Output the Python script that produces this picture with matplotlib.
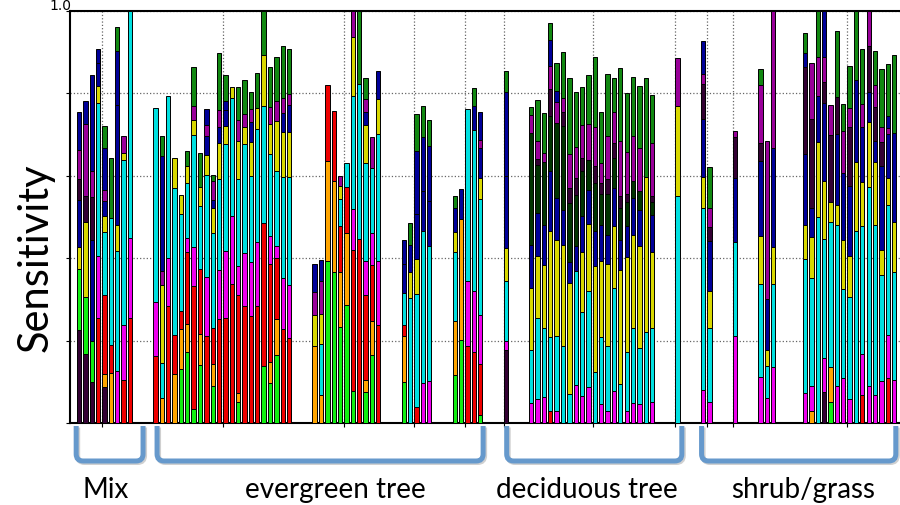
import matplotlib.pyplot as plt
from matplotlib.path import Path
from matplotlib.patches import PathPatch

# stacked segment colours
layer_colors = {
    'dp': '#330033', 'li': '#11ee11', 'or': '#ffa500', 're': '#ee0000',
    'ma': '#ee00ee', 'cy': '#00e0e0', 'ye': '#d8d800', 'bl': '#000099',
    'dg': '#003300', 'pu': '#990099', 'gr': '#118811',
}

# each bar: list of (layer, cumulative top)
mix_x = [0, 1, 2, 3, 4, 5, 6, 7, 8]
mix_bars = [
    [('dp', .226), ('li', .375), ('ye', .428), ('bl', .541), ('dp', .592), ('pu', .663), ('bl', .754)],
    [('dp', .167), ('li', .305), ('ye', .487), ('dp', .550), ('pu', .725), ('bl', .781)],
    [('dp', .099), ('li', .199), ('bl', .444), ('dp', .548), ('pu', .612), ('bl', .845)],
    [('re', .254), ('ma', .406), ('cy', .777), ('ye', .819), ('bl', .875), ('bl', .908)],
    [('dp', .087), ('or', .118), ('re', .311), ('cy', .463), ('ye', .503), ('bl', .540), ('pu', .566), ('bl', .668), ('gr', .720)],
    [('or', .121), ('re', .190), ('cy', .498), ('gr', .642)],
    [('ma', .127), ('cy', .417), ('ye', .481), ('bl', .773), ('bl', .902), ('gr', .960)],
    [('re', .105), ('ma', .238), ('cy', .639), ('ye', .655), ('pu', .697)],
    [('re', .256), ('ma', .448), ('cy', 1.0)],
]

evergreen_x = list(range(12, 34)) + list(range(37, 48)) + list(range(51, 56)) + list(range(59, 64))
evergreen_bars = [
    [('re', .162), ('ma', .293), ('cy', .764)],
    [('or', .061), ('cy', .145), ('ye', .335), ('pu', .370), ('bl', .647), ('gr', .697)],
    [('re', .283), ('ma', .400), ('cy', .793)],
    [('or', .119), ('re', .214), ('cy', .570), ('ye', .644)],
    [('li', .131), ('or', .228), ('re', .273), ('cy', .507), ('ye', .554)],
    [('li', .173), ('or', .240), ('re', .416), ('ma', .448), ('cy', .583), ('ye', .623), ('gr', .661)],
    [('li', .034), ('re', .332), ('ma', .428), ('cy', .700), ('ye', .736), ('pu', .769), ('gr', .865)],
    [('li', .141), ('or', .216), ('re', .374), ('cy', .526), ('ye', .574), ('gr', .655)],
    [('re', .210), ('ma', .354), ('cy', .602), ('ye', .650), ('bl', .696), ('pu', .724), ('bl', .761)],
    [('li', .091), ('or', .142), ('re', .230), ('cy', .460), ('ye', .521), ('bl', .542), ('pu', .587), ('gr', .602)],
    [('re', .252), ('ma', .372), ('cy', .592), ('ye', .680), ('bl', .718), ('pu', .759), ('gr', .898)],
    [('re', .254), ('ma', .418), ('cy', .677), ('ye', .722), ('bl', .759), ('bl', .782), ('gr', .845)],
    [('re', .337), ('ma', .502), ('cy', .789), ('ye', .815)],
    [('li', .050), ('or', .073), ('re', .311), ('ma', .382), ('cy', .592), ('ye', .685), ('pu', .735), ('gr', .815)],
    [('re', .283), ('ma', .412), ('cy', .676), ('ye', .719), ('pu', .749), ('gr', .833)],
    [('re', .259), ('ma', .390), ('cy', .600), ('ye', .681), ('bl', .731), ('pu', .762), ('gr', .804)],
    [('re', .283), ('ma', .439), ('cy', .714), ('ye', .764), ('gr', .850)],
    [('li', .138), ('re', .485), ('cy', .769), ('ye', .893), ('gr', 1.0)],
    [('li', .097), ('or', .147), ('re', .386), ('ma', .455), ('cy', .653), ('ye', .726), ('pu', .766), ('gr', .863)],
    [('li', .165), ('or', .252), ('re', .400), ('ma', .429), ('cy', .611), ('ye', .732), ('pu', .782), ('gr', .888)],
    [('re', .228), ('ma', .351), ('cy', .596), ('ye', .706), ('bl', .752), ('pu', .788), ('gr', .914)],
    [('re', .206), ('ma', .335), ('cy', .596), ('ye', .706), ('bl', .773), ('pu', .799), ('gr', .908)],
    [('or', .188), ('ye', .261), ('pu', .319), ('bl', .386)],
    [('or', .069), ('cy', .192), ('ye', .265), ('pu', .345), ('bl', .396)],
    [('li', .394), ('or', .637), ('re', .820)],
    [('li', .367), ('or', .588), ('re', .758)],
    [('li', .234), ('or', .366), ('re', .479), ('cy', .544), ('ye', .576), ('pu', .599)],
    [('li', .286), ('or', .460), ('re', .574), ('cy', .630)],
    [('li', .078), ('re', .421), ('ma', .519), ('cy', .794), ('ye', .936), ('pu', 1.0)],
    [('re', .447), ('cy', .823), ('gr', 1.0)],
    [('li', .076), ('or', .105), ('re', .311), ('ma', .392), ('cy', .630), ('ye', .724), ('bl', .754), ('pu', .786), ('gr', .837)],
    [('li', .166), ('or', .248), ('re', .383), ('ma', .460), ('cy', .618), ('pu', .695)],
    [('re', .238), ('ma', .394), ('cy', .701), ('ye', .786), ('bl', .855)],
    [('li', .099), ('or', .210), ('re', .238), ('cy', .316), ('bl', .386), ('bl', .444)],
    [('cy', .303), ('ye', .367), ('bl', .433), ('gr', .485)],
    [('re', .040), ('cy', .313), ('ye', .398), ('bl', .507), ('bl', .661), ('gr', .750)],
    [('ma', .097), ('cy', .467), ('bl', .564), ('bl', .693), ('gr', .769)],
    [('ma', .101), ('cy', .430), ('bl', .540), ('bl', .672), ('gr', .736)],
    [('li', .117), ('or', .248), ('cy', .414), ('ye', .463), ('bl', .521), ('gr', .552)],
    [('li', .201), ('or', .495), ('bl', .568)],
    [('re', .186), ('ma', .345), ('cy', .761)],
    [('re', .173), ('ma', .320), ('cy', .712), ('bl', .769), ('gr', .812)],
    [('li', .019), ('re', .142), ('ma', .262), ('cy', .544), ('ye', .595), ('bl', .667), ('pu', .688), ('bl', .754)],
]

deciduous_x = [67] + list(range(71, 91)) + [94]
deciduous_bars = [
    [('dp', .178), ('ma', .198), ('cy', .344), ('ye', .424), ('bl', .600), ('bl', .804), ('gr', .855)],
    [('ma', .048), ('cy', .177), ('ye', .327), ('bl', .432), ('dg', .704), ('pu', .748), ('gr', .766)],
    [('ma', .058), ('cy', .255), ('ye', .405), ('bl', .509), ('dg', .627), ('dp', .641), ('pu', .685), ('gr', .784)],
    [('ma', .064), ('cy', .230), ('ye', .384), ('bl', .481), ('dg', .634), ('pu', .655), ('gr', .752)],
    [('re', .030), ('cy', .208), ('ye', .467), ('bl', .612), ('dg', .746), ('dp', .811), ('pu', .867), ('bl', .930), ('gr', .972)],
    [('ma', .028), ('cy', .210), ('ye', .445), ('bl', .545), ('dg', .728), ('pu', .778), ('bl', .805), ('gr', .874)],
    [('cy', .186), ('ye', .433), ('bl', .518), ('dg', .722), ('dp', .754), ('pu', .788), ('gr', .901)],
    [('cy', .070), ('ye', .339), ('bl', .390), ('dg', .534), ('dp', .570), ('pu', .653), ('gr', .837)],
    [('ma', .092), ('cy', .368), ('bl', .430), ('dg', .553), ('dp', .595), ('pu', .669), ('gr', .803)],
    [('ma', .066), ('cy', .269), ('ye', .414), ('bl', .502), ('dg', .612), ('dp', .643), ('pu', .723), ('gr', .815)],
    [('ma', .088), ('cy', .320), ('ye', .482), ('bl', .566), ('dg', .639), ('pu', .726), ('gr', .845)],
    [('cy', .125), ('ye', .382), ('bl', .467), ('dg', .582), ('dp', .625), ('pu', .719), ('gr', .888)],
    [('ma', .045), ('cy', .208), ('ye', .394), ('bl', .481), ('dg', .557), ('dp', .582), ('pu', .630), ('gr', .756)],
    [('ma', .028), ('cy', .188), ('ye', .386), ('bl', .456), ('dg', .557), ('dp', .592), ('pu', .696), ('gr', .847)],
    [('ma', .077), ('cy', .327), ('ye', .479), ('bl', .570), ('dg', .643), ('dp', .680), ('pu', .756), ('gr', .837)],
    [('cy', .095), ('ye', .371), ('bl', .445), ('dg', .521), ('dp', .550), ('pu', .685), ('gr', .861)],
    [('ma', .028), ('cy', .172), ('ye', .402), ('bl', .477), ('dg', .536), ('dp', .556), ('pu', .657), ('gr', .800)],
    [('ma', .049), ('cy', .230), ('ye', .457), ('bl', .545), ('dg', .588), ('pu', .696), ('gr', .841)],
    [('ma', .046), ('cy', .182), ('ye', .430), ('bl', .517), ('dg', .562), ('pu', .667), ('gr', .817)],
    [('cy', .222), ('ye', .598), ('gr', .837)],
    [('ma', .052), ('cy', .230), ('ye', .414), ('bl', .506), ('dg', .536), ('dp', .550), ('pu', .680), ('gr', .796)],
    [('cy', .552), ('ye', .769), ('pu', .885)],
]

shrub_x = [98, 99, 103, 107, 108, 109] + list(range(114, 129))
shrub_bars = [
    [('ma', .080), ('cy', .523), ('ye', .598), ('bl', .739), ('dp', .823), ('pu', .847), ('bl', .926)],
    [('ma', .050), ('cy', .230), ('ye', .321), ('bl', .441), ('dp', .475), ('pu', .521), ('gr', .621)],
    [('ma', .210), ('cy', .439), ('bl', .594), ('dp', .693), ('pu', .709)],
    [('ma', .112), ('cy', .337), ('ye', .455), ('bl', .637), ('dp', .680), ('pu', .821), ('gr', .859)],
    [('ma', .060), ('cy', .138), ('ye', .178), ('bl', .301), ('pu', .684)],
    [('ma', .135), ('cy', .337), ('ye', .428), ('bl', .667), ('pu', 1.0)],
    [('ma', .074), ('cy', .398), ('ye', .481), ('bl', .653), ('dp', .863), ('bl', .898), ('gr', .947)],
    [('or', .028), ('ma', .091), ('cy', .351), ('ye', .451), ('bl', .523), ('dp', .738), ('pu', .875)],
    [('cy', .499), ('ye', .681), ('bl', .794), ('pu', .888), ('gr', 1.0)],
    [('dp', .076), ('ma', .158), ('cy', .447), ('ye', .588), ('bl', .777), ('dp', .827), ('pu', .888), ('bl', 1.0)],
    [('li', .052), ('or', .135), ('cy', .489), ('ye', .536), ('dp', .699), ('pu', .772)],
    [('ma', .091), ('cy', .481), ('ye', .529), ('bl', .701), ('dp', .792), ('gr', .951)],
    [('ma', .109), ('cy', .325), ('ye', .445), ('bl', .608), ('pu', .708), ('gr', .774)],
    [('ma', .058), ('cy', .307), ('ye', .405), ('bl', .575), ('dp', .718), ('pu', .765), ('gr', .866)],
    [('cy', .467), ('ye', .634), ('bl', .833), ('gr', 1.0)],
    [('re', .068), ('ma', .167), ('cy', .477), ('ye', .586), ('bl', .718), ('pu', .774), ('gr', .908)],
    [('ma', .089), ('cy', .572), ('ye', .731), ('bl', .803), ('dp', .914), ('pu', 1.0)],
    [('ma', .069), ('cy', .481), ('ye', .634), ('bl', .685), ('dp', .766), ('pu', .820), ('gr', .904)],
    [('ma', .101), ('cy', .359), ('ye', .420), ('bl', .625), ('dp', .683), ('pu', .718), ('gr', .859)],
    [('re', .109), ('ma', .214), ('cy', .529), ('ye', .595), ('bl', .701), ('pu', .715), ('bl', .746), ('gr', .871)],
    [('ma', .105), ('cy', .367), ('ye', .489), ('bl', .703), ('gr', .892)],
]

group_names = ['Mix', 'evergreen tree', 'deciduous tree', 'shrub/grass']
group_spans = [(-0.1, 10.4), (12.6, 63.8), (67.5, 95.0), (98.1, 128.6)]
label_px = [106, 335, 587, 803]
grid_x = [4, 23, 42, 53, 61, 67, 81, 94, 99, 103, 121]

fig = plt.figure(figsize=(9, 5.06), dpi=100)
ax = fig.add_axes([70 / 900, 82 / 506, 850 / 900, 412 / 506])

for xs, bars in [(mix_x, mix_bars), (evergreen_x, evergreen_bars),
                 (deciduous_x, deciduous_bars), (shrub_x, shrub_bars)]:
    for x, segs in zip(xs, bars):
        bottom = 0
        for layer, top in segs:
            # soft grey shadow to the right of each bar
            ax.bar(x + 0.12, top - bottom, bottom=bottom, width=0.68, align='edge',
                   color='#bbbbbb', edgecolor='none', zorder=2)
            ax.bar(x, top - bottom, bottom=bottom, width=0.68, align='edge',
                   color=layer_colors[layer], edgecolor='black', linewidth=0.7, zorder=3)
            bottom = top

ax.set_xlim(-1.07, 132.4)
ax.set_ylim(0, 1)
ax.set_yticks([0, 0.2, 0.4, 0.6, 0.8, 1.0])
ax.set_yticklabels([])
ax.set_xticks(grid_x)
ax.set_xticklabels([])
ax.tick_params(length=3, width=0.8)
ax.grid(True, linestyle=':', color='0.4', linewidth=0.9)
ax.set_axisbelow(True)
for s in ax.spines.values():
    s.set_linewidth(1.5)
ax.spines['right'].set_visible(False)

fig.text(36 / 900, 1 - 258 / 506, 'Sensitivity', rotation=90, ha='center', va='center',
         fontsize=30, family='Lato')
fig.text(60 / 900, 1 - 13 / 506, '1.0', ha='center', va='bottom', fontsize=10)

# brackets drawn in pixel space below the axes
ov = fig.add_axes([0, 0, 1, 1])
ov.set_xlim(0, 900)
ov.set_ylim(506, 0)
ov.axis('off')
top_y, bot_y, r = 427, 462, 7
for (x0, x1), name, lx in zip(group_spans, group_names, label_px):
    p0 = ax.transData.transform((x0, 0))[0]
    p1 = ax.transData.transform((x1, 0))[0]
    verts = [(p0, top_y), (p0, bot_y - r), (p0, bot_y), (p0 + r, bot_y),
             (p1 - r, bot_y), (p1, bot_y), (p1, bot_y - r), (p1, top_y)]
    codes = [Path.MOVETO, Path.LINETO, Path.CURVE3, Path.CURVE3,
             Path.LINETO, Path.CURVE3, Path.CURVE3, Path.LINETO]
    ov.add_patch(PathPatch(Path([(vx + 1.5, vy + 1.5) for vx, vy in verts], codes),
                           facecolor='none', edgecolor='#d0d0d0', linewidth=3.6))
    ov.add_patch(PathPatch(Path(verts, codes), facecolor='none',
                           edgecolor='#6699cc', linewidth=3.6, capstyle='butt'))
    ov.text(lx, 490, name, ha='center', va='center', fontsize=20, family='Lato')

fig.savefig('out.png', dpi=100)
